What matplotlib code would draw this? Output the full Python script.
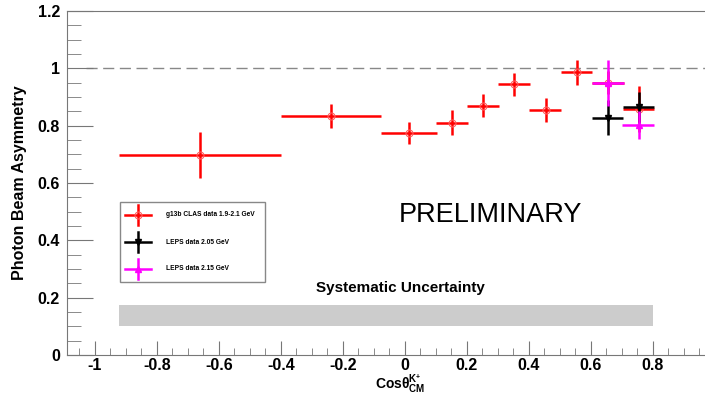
import numpy as np
import matplotlib.pyplot as plt
from matplotlib.patches import Rectangle
from matplotlib.lines import Line2D

# g13b CLAS data 1.9-2.1 GeV
clas_x = [-0.661, -0.239, 0.013, 0.153, 0.253, 0.353, 0.454, 0.555, 0.654, 0.754]
clas_xlo = [-0.923, -0.400, -0.077, 0.100, 0.201, 0.301, 0.401, 0.502, 0.603, 0.704]
clas_xhi = [-0.400, -0.077, 0.103, 0.204, 0.304, 0.405, 0.505, 0.605, 0.706, 0.805]
clas_y = [0.698, 0.834, 0.774, 0.810, 0.870, 0.944, 0.856, 0.986, 0.949, 0.857]
clas_ey = [0.080, 0.042, 0.039, 0.044, 0.040, 0.041, 0.042, 0.043, 0.040, 0.080]

# LEPS data 2.05 GeV
leps1_x = [0.654, 0.754]
leps1_xlo = [0.603, 0.704]
leps1_xhi = [0.705, 0.805]
leps1_y = [0.828, 0.864]
leps1_ey = [0.060, 0.055]

# LEPS data 2.15 GeV
leps2_x = [0.654, 0.754]
leps2_xlo = [0.603, 0.700]
leps2_xhi = [0.706, 0.803]
leps2_y = [0.950, 0.802]
leps2_ey = [0.080, 0.048]

# systematic band
syst_x = [-0.923, 0.800]
syst_y = [0.101, 0.174]

legend_labels = ['g13b CLAS data 1.9-2.1 GeV', 'LEPS data 2.05 GeV', 'LEPS data 2.15 GeV']

xticks = [-1, -0.8, -0.6, -0.4, -0.2, 0, 0.2, 0.4, 0.6, 0.8]
xticklabels = ['-1', '-0.8', '-0.6', '-0.4', '-0.2', '0', '0.2', '0.4', '0.6', '0.8']
yticks = [0, 0.2, 0.4, 0.6, 0.8, 1.0, 1.2]
yticklabels = ['0', '0.2', '0.4', '0.6', '0.8', '1', '1.2']

plt.rcParams['font.family'] = ['Liberation Sans', 'DejaVu Sans']
plt.rcParams['mathtext.default'] = 'regular'

W, H = 705, 395
fig = plt.figure(figsize=(W/100, H/100), dpi=100)
ax = fig.add_axes([67/W, 40/H, 1 - 67/W, 344/H])
ax.set_xlim(-1.090, 0.968)
ax.set_ylim(0, 1.2)


def xerrs(x, lo, hi):
    x = np.array(x)
    return [x - np.array(lo), np.array(hi) - x]


ax.add_patch(Rectangle((syst_x[0], syst_y[0]), syst_x[1] - syst_x[0],
                       syst_y[1] - syst_y[0], color='#cccccc', lw=0, zorder=1))
ax.plot([-1.03, 0.968], [1, 1], color='#888888', lw=1, ls=(0, (8, 4)), zorder=1)

styles = [dict(fmt='o', ms=5, mfc='none', mec='#ff6060', mew=0.8, color='#ff0000'),
          dict(fmt='v', ms=5, color='black'),
          dict(fmt='^', ms=5, color='#ff00ff')]

ax.errorbar(clas_x, clas_y, yerr=clas_ey, xerr=xerrs(clas_x, clas_xlo, clas_xhi),
            elinewidth=1.8, capsize=0, zorder=3, **styles[0])
ax.errorbar(leps1_x, leps1_y, yerr=leps1_ey, xerr=xerrs(leps1_x, leps1_xlo, leps1_xhi),
            elinewidth=1.8, capsize=0, zorder=4, **styles[1])
ax.errorbar(leps2_x, leps2_y, yerr=leps2_ey, xerr=xerrs(leps2_x, leps2_xlo, leps2_xhi),
            elinewidth=1.8, capsize=0, zorder=5, **styles[2])

# legend box drawn by hand (pixel positions converted to figure fraction)
fig.patches.append(Rectangle((120/W, 1 - 282/H), 145/W, 80/H, transform=fig.transFigure,
                             facecolor='white', edgecolor='#888888', lw=1, zorder=6))
for i, lab in enumerate(legend_labels):
    yc = 1 - (215 + 27*i)/H
    st = styles[i]
    fig.add_artist(Line2D([125/W, 151/W], [yc, yc], color=st['color'], lw=1.8, zorder=7))
    fig.add_artist(Line2D([138/W, 138/W], [yc - 10/H, yc + 10/H], color=st['color'],
                          lw=1.8, zorder=7))
    fig.add_artist(Line2D([138/W], [yc], marker=st['fmt'], ms=st['ms'],
                          mfc=st.get('mfc', st['color']), mec=st.get('mec', st['color']),
                          mew=st.get('mew', 1), zorder=8))
    fig.text(166/W, yc, lab, fontsize=4.8, fontweight='bold', va='center', ha='left', zorder=8)

ax.text(0.277, 0.49, 'PRELIMINARY', fontsize=19.5, ha='center', va='center')
ax.text(-0.016, 0.235, 'Systematic Uncertainty', fontsize=11, fontweight='bold',
        ha='center', va='center')

for s in ['left', 'bottom', 'top']:
    ax.spines[s].set_color('#777777')
ax.spines['right'].set_visible(False)

ax.set_xticks(xticks)
ax.set_xticklabels(xticklabels, fontsize=11.5, fontweight='bold')
ax.set_yticks(yticks)
ax.set_yticklabels(yticklabels, fontsize=11.5, fontweight='bold')
ax.set_xticks(np.arange(-1.05, 0.97, 0.05), minor=True)
ax.set_yticks(np.arange(0, 1.21, 0.05), minor=True)
ax.tick_params(axis='x', which='major', direction='in', length=10, color='#777777', pad=2)
ax.tick_params(axis='x', which='minor', direction='in', length=5, color='#777777')
ax.tick_params(axis='y', which='major', direction='in', length=19, color='#777777', pad=5)
ax.tick_params(axis='y', which='minor', direction='in', length=10, color='#777777')

ax.set_xlabel(r'Cos$\theta^{K^{+}}_{CM}$', fontsize=10, fontweight='bold')
ax.xaxis.set_label_coords(0.522, -0.052)
ax.set_ylabel('Photon Beam Asymmetry', fontsize=11.5, fontweight='bold', labelpad=8)

fig.savefig('out.png', dpi=100)
